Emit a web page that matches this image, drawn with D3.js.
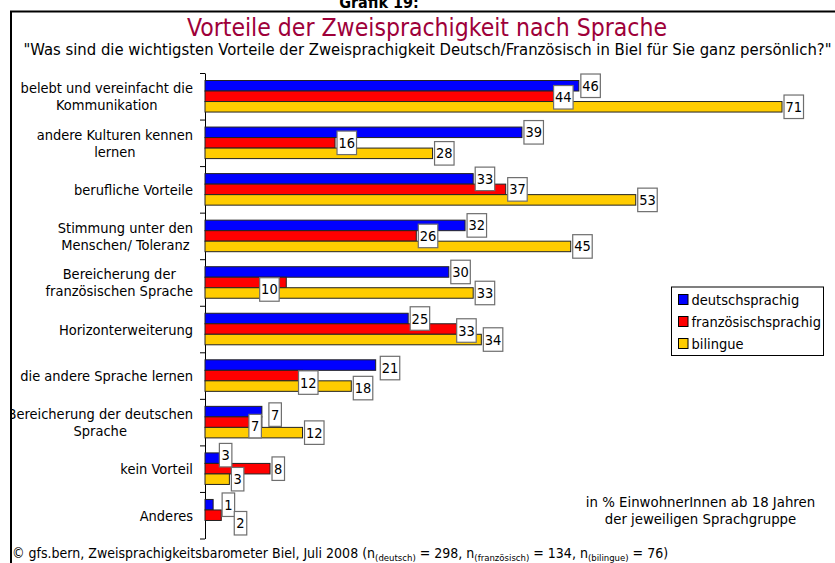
<!DOCTYPE html>
<html><head><meta charset="utf-8">
<script src="https://cdn.jsdelivr.net/npm/d3@7"></script>
<style>
body{margin:0;background:#fff}
svg{display:block}
text{font-family:"DejaVu Sans Condensed","DejaVu Sans",sans-serif;font-stretch:condensed}
</style></head><body>
<svg id="chart" width="835" height="563"></svg>
<script>
// ---------- data ----------
const categories = [
  "belebt und vereinfacht die\nKommunikation",
  "andere Kulturen kennen\nlernen",
  "berufliche Vorteile",
  "Stimmung unter den\nMenschen/ Toleranz",
  "Bereicherung der\nfranzösischen Sprache",
  "Horizonterweiterung",
  "die andere Sprache lernen",
  "Bereicherung der deutschen\nSprache",
  "kein Vorteil",
  "Anderes"
];
const seriesNames = ["deutschsprachig", "französischsprachig", "bilingue"];
const deutschsprachig     = [46, 39, 33, 32, 30, 25, 21, 7, 3, 1];
const franzoesischsprachig = [44, 16, 37, 26, 10, 33, 12, 7, 8, 2];
const bilingue            = [71, 28, 53, 45, 33, 34, 18, 12, 3, 0];

const titleText = "Vorteile der Zweisprachigkeit nach Sprache";
const subtitleText = "\"Was sind die wichtigsten Vorteile der Zweisprachigkeit Deutsch/Französisch in Biel für Sie ganz persönlich?\"";
const noteLines = ["in % EinwohnerInnen ab 18 Jahren", "der jeweiligen Sprachgruppe"];

// ---------- layout / style config ----------
const colors = ["#0000ff", "#ff0000", "#ffcc00"];
const FONT = 14.5;
// manual label nudges (px), relative to default outside-end placement
const labelNudge = {
  "0-1": [-11, 1],
  "4-1": [-28.6, 7],
  "5-1": [-18.5, 1.5],
  "6-0": [2.6, 3], "6-1": [-6, 7], "6-2": [0, 2],
  "7-0": [5, 3], "7-1": [-15, 4],
  "8-0": [-12, -3],
  "9-0": [7, 0], "9-1": [11, 8]
};

const values = [deutschsprachig, franzoesischsprachig, bilingue];
const svg = d3.select("#chart");

// frame
svg.append("path").attr("d", "M11,563V11.5H835").attr("fill", "none")
  .attr("stroke", "#000").attr("stroke-width", 2);

// top caption (clipped by the picture's edge as in the original)
svg.append("text").attr("x", 379).attr("y", 8).attr("text-anchor", "middle")
  .attr("font-size", 16).attr("font-weight", "bold").text("Grafik 19:");

svg.append("text").attr("x", 427).attr("y", 36).attr("text-anchor", "middle")
  .attr("font-size", 24).attr("fill", "#9e0039")
  .attr("textLength", 480).attr("lengthAdjust", "spacingAndGlyphs").text(titleText);
svg.append("text").attr("x", 427.5).attr("y", 55).attr("text-anchor", "middle")
  .attr("font-size", 16.5).attr("fill", "#000")
  .attr("textLength", 808).attr("lengthAdjust", "spacingAndGlyphs").text(subtitleText);

// scales
const x = d3.scaleLinear().domain([0, 80]).range([205, 205 + 80 * 8.127]);
const y = d3.scaleBand().domain(d3.range(categories.length)).range([73, 538.5])
  .paddingInner(0.3226).paddingOuter(0.1613);
const ySub = d3.scaleBand().domain(d3.range(seriesNames.length)).range([0, y.bandwidth()]);

// axis with ticks at category boundaries
const yEdge = d3.scaleLinear().domain([0, categories.length]).range(y.range());
svg.append("g").attr("transform", `translate(${x(0)},0)`)
  .call(d3.axisLeft(yEdge).ticks(categories.length).tickFormat("").tickSizeInner(5).tickSizeOuter(0))
  .call(g => { g.select(".domain").attr("stroke", "#000"); g.selectAll(".tick line").attr("stroke", "#000"); });

// bars
const bars = [];
values.forEach((arr, s) => arr.forEach((v, i) => bars.push({s, i, v})));
svg.append("g").selectAll("rect").data(bars.filter(d => d.v > 0)).join("rect")
  .attr("x", x(0))
  .attr("y", d => y(d.i) + ySub(d.s))
  .attr("width", d => x(d.v) - x(0))
  .attr("height", ySub.bandwidth())
  .attr("fill", d => colors[d.s])
  .attr("stroke", "#222").attr("stroke-width", 1);

// category labels
svg.append("clipPath").attr("id", "lc").append("rect").attr("x", 12).attr("y", 0).attr("width", 200).attr("height", 563);
const catG = svg.append("g").attr("clip-path", "url(#lc)");
categories.forEach((c, i) => {
  const lines = c.split("\n");
  const cy = y(i) + y.bandwidth() / 2;
  const t = catG.append("text").attr("font-size", FONT).attr("text-anchor", "middle");
  const spans = lines.map((ln, k) => t.append("tspan").attr("y", cy - (lines.length - 1) * 8.5 + 5.5 + k * 17).text(ln));
  const maxW = d3.max(spans, sp => sp.node().getComputedTextLength());
  spans.forEach(sp => sp.attr("x", 193 - maxW / 2));
});

// data labels
const lg = svg.append("g");
bars.filter(d => d.v > 0).forEach(d => {
  const [dx, dy] = labelNudge[d.i + "-" + d.s] || [0, 0];
  const label = String(d.v);
  const w = label.length === 1 ? 12.5 : 19.5, h = 23.5;
  const bx = x(d.v) + 2 + dx;
  const cy = y(d.i) + ySub(d.s) + ySub.bandwidth() / 2 + dy;
  lg.append("rect").attr("x", bx).attr("y", cy - h / 2).attr("width", w).attr("height", h)
    .attr("fill", "#fff").attr("stroke", "#6e6e6e").attr("stroke-width", 1.2);
  lg.append("text").attr("x", bx + w / 2).attr("y", cy + 5).attr("text-anchor", "middle")
    .attr("font-size", FONT).text(label);
});

// legend
const leg = svg.append("g");
leg.append("rect").attr("x", 671.5).attr("y", 287).attr("width", 152).attr("height", 68.5)
  .attr("fill", "#fff").attr("stroke", "#000").attr("stroke-width", 1);
seriesNames.forEach((n, k) => {
  leg.append("rect").attr("x", 678.5).attr("y", 294.5 + k * 22).attr("width", 9.5).attr("height", 10)
    .attr("fill", colors[k]).attr("stroke", "#000").attr("stroke-width", 1);
  leg.append("text").attr("x", 691.5).attr("y", 304.8 + k * 22).attr("font-size", FONT).text(n);
});

// note
noteLines.forEach((ln, k) => {
  svg.append("text").attr("x", 700.5).attr("y", 507 + k * 17).attr("text-anchor", "middle")
    .attr("font-size", 14.8).text(ln);
});

// footer with subscripts
const ft = svg.append("text").attr("x", 12).attr("y", 558).attr("font-size", 14);
const parts = [
  ["© gfs.bern, Zweisprachigkeitsbarometer Biel, Juli 2008 (n", false],
  ["(deutsch)", true], [" = 298, n", false],
  ["(französisch)", true], [" = 134, n", false],
  ["(bilingue)", true], [" = 76)", false]
];
let sub = false;
parts.forEach(([txt, isSub]) => {
  const sp = ft.append("tspan").text(txt);
  if (isSub) { sp.attr("font-size", 9.5).attr("dy", 3); sub = true; }
  else if (sub) { sp.attr("dy", -3); sub = false; }
});
</script>
</body></html>
